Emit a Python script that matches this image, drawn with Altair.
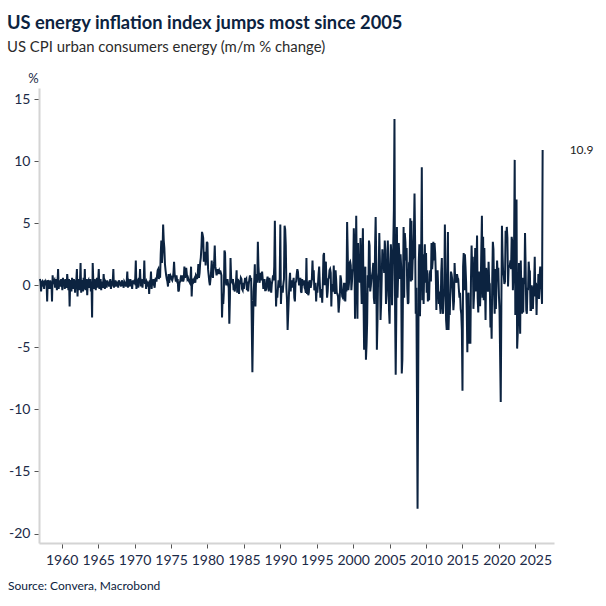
import altair as alt
import pandas as pd

# US CPI urban consumers, energy: month-on-month % change, Jan 1957 - Jan 2026
START_YEAR = 1957

vals_1950s = [
    0.5, 0.3, -0.5, 0.2, 0.3, 0.1, 0.2, -0.3, 0.4, 0.0, 0.3, 0.2,
    -1.3, 0.4, 0.3, 0.2, -0.3, 0.4, 0.1, 0.3, -1.3, 0.8, 0.2, 0.3,
    0.4, -0.2, 0.3, 0.5, -0.4, 0.2, 1.3, -0.3, 0.4, 0.2, -0.1, 0.5,
]
vals_1960s = [
    0.3, -0.4, 0.6, 0.2, 0.4, -0.3, 0.5, 0.1, -0.2, 0.9, 0.3, -0.4,
    0.5, -1.7, 0.4, 0.3, -0.5, 0.6, 0.2, -0.3, 0.5, 0.1, -0.6, 0.3,
    0.4, 1.3, -0.9, 0.5, 0.3, -0.4, 0.2, 1.8, -0.6, 0.4, 0.3, -0.5,
    0.6, -0.3, 1.3, -0.4, 0.2, 0.5, -0.8, 0.3, 0.4, -0.2, 0.1, 0.5,
    -0.5, 0.3, -2.6, 1.8, 0.4, -0.3, 0.5, 0.2, -0.4, 0.3, 0.6, -0.2,
    0.4, 1.3, -0.3, 0.2, 0.5, -0.4, 0.3, 0.1, -0.2, 0.9, 0.2, -0.3,
    0.3, 0.2, -0.2, 0.4, 0.1, 0.3, -0.1, 0.2, 0.5, -0.3, 0.2, 0.1,
    0.3, 1.3, -0.2, 0.2, 0.4, -0.1, 0.2, 0.1, 0.3, -0.2, 0.4, 0.2,
    0.1, 0.3, -0.1, 0.4, 0.2, 0.1, -0.2, 0.3, 0.2, 0.1, -0.1, 0.3,
    1.1, -0.2, 0.4, 0.3, -0.1, 0.5, 0.2, 0.1, -0.3, 0.4, 0.2, 0.3,
]
vals_1970s = [
    0.2, 0.5, 2.0, -0.3, 0.4, 0.3, -0.2, 0.6, 0.2, 1.3, -0.1, 0.4,
    0.3, -0.2, 0.5, 0.2, 2.0, 0.1, 0.4, -0.3, 0.3, 0.2, -0.1, 0.3,
    -0.7, 0.4, 0.2, 1.1, -0.3, 0.3, 0.2, 0.5, 0.1, -0.2, 0.4, 0.6,
    0.3, 0.8, 1.2, 1.3, 0.5, 1.0, 0.6, 2.5, 3.6, 1.8, 2.7, 4.9,
    3.6, 3.0, 1.7, 1.2, 0.8, 0.5, 0.3, -0.1, 0.9, 0.2, 0.6, 0.8,
    0.7, 0.5, 0.4, 0.6, 1.0, 1.9, 0.9, 0.6, 0.3, 0.8, 0.4, 0.5,
    -0.5, -0.4, 0.2, 0.3, 0.6, 0.5, 0.8, 0.5, 0.3, 0.5, 1.5, 0.6,
    0.8, 1.4, 0.9, 0.5, 0.6, 0.4, 0.3, 0.2, 0.5, 1.5, -0.9, 0.3,
    0.4, 0.3, 0.5, 0.6, 0.2, 0.8, 0.7, 0.5, 0.9, 1.7, 0.6, 1.0,
    1.8, 2.2, 3.0, 4.3, 4.1, 3.8, 1.9, 2.5, 2.7, 1.6, 2.4, 3.5,
]
vals_1980s = [
    3.4, 1.3, 0.8, 0.3, 0.0, 0.5, 1.1, 2.0, 0.9, 0.6, 1.4, 1.8,
    3.2, 1.5, 1.2, 0.8, 1.0, 1.3, 1.1, 1.2, 0.9, 1.2, 1.0, 0.8,
    -2.6, -0.9, -1.5, -0.5, 2.8, 2.6, 0.4, 0.0, 0.3, 0.5, 0.1, -0.2,
    -3.1, -1.0, 2.2, 0.6, 0.3, 0.2, 0.5, -0.4, -0.2, -0.5, 0.1, 0.3,
    1.2, -0.6, 0.5, 0.3, -0.7, 0.4, 0.1, 0.6, 0.5, -0.3, -0.4, 0.2,
    -0.3, 0.2, 0.6, 0.4, 0.5, -0.4, 0.3, -0.5, 0.1, 0.5, 0.8, 0.5,
    0.5, -3.3, -7.0, -3.5, -0.5, 0.3, 1.7, -1.7, 0.4, 0.9, 0.2, 3.5,
    1.5, 0.6, 0.2, 1.0, 0.4, 0.8, 1.1, 0.5, -0.3, 0.2, 0.5, -0.4,
    -0.4, -0.3, 0.4, 0.7, 0.2, -0.5, 0.6, 0.3, -0.2, -0.6, 0.1, 0.4,
    0.8, 0.4, 1.5, 5.2, 1.1, -1.7, -0.4, -1.0, -0.3, 0.4, -0.2, 0.6,
]
vals_1990s = [
    4.9, -1.5, -0.3, -0.2, -0.6, 0.1, 0.5, 4.8, 4.5, 3.2, -0.2, -1.2,
    -3.6, -2.3, -1.0, 0.3, 1.0, -0.5, 0.2, 0.4, -0.2, 0.3, 0.6, -1.0,
    -1.3, 0.2, 0.3, 0.9, 1.3, 1.1, 0.4, 0.0, 0.3, 0.6, -0.5, -0.6,
    0.5, 0.1, 0.2, 0.4, -0.2, -0.3, -0.6, 2.2, -0.7, 0.3, -0.8, -0.6,
    0.4, 0.2, -0.2, 0.1, 0.6, 2.0, 0.4, 1.2, -0.4, -0.3, 0.2, -1.3,
    -0.2, -0.6, 0.1, 0.9, 1.5, 0.2, -1.0, -0.6, -0.3, -1.4, 0.2, 2.4,
    2.6, 0.0, 1.8, 1.9, 0.2, -1.0, -0.5, 0.5, 0.6, 1.2, 1.3, 1.0,
    -1.7, 0.1, -0.5, -0.3, 1.6, -0.4, -0.7, 1.2, 0.4, -0.6, -0.7, -0.9,
    -2.2, -1.5, -0.8, 0.8, 0.5, -0.3, -0.9, -1.0, -0.6, 0.2, -1.0, -1.3,
    0.2, -0.5, 5.1, 2.6, -0.4, 0.1, 1.8, 1.9, 1.6, -0.4, 0.3, 1.2,
]
vals_2000s = [
    1.2, 4.6, 3.0, -2.7, 1.0, 5.6, 0.8, -2.7, 3.4, 0.3, 0.9, 0.2,
    3.8, 0.5, -1.5, 1.8, 4.6, -1.0, -5.2, 0.6, 1.5, -6.0, -4.8, -3.0,
    0.8, -0.2, 3.6, 3.2, -0.5, -0.1, 0.5, 0.8, 1.1, 1.8, -1.0, -1.5,
    3.0, 5.5, 1.8, -5.2, -2.9, 0.5, 1.0, 4.2, 2.0, -2.8, -1.5, 0.6,
    2.9, 1.5, 2.0, 1.0, 3.6, 2.8, -1.5, -0.8, 0.6, 3.6, 1.6, -2.0,
    -3.1, 1.2, 3.3, 2.4, -1.6, 0.6, 3.3, 6.0, 13.4, -2.0, -7.2, -2.4,
    4.7, -1.0, 0.8, 3.4, 2.4, 0.5, 2.5, 1.5, -7.1, -6.0, -0.5, 4.7,
    -1.0, 4.2, 3.5, 2.0, 3.0, -0.3, -1.5, -1.4, 1.8, 1.9, 5.4, 0.3,
    5.2, 0.4, 2.0, 2.3, 4.2, 7.4, 3.5, -2.3, -0.2, -8.6, -18.0, -8.3,
    1.9, 3.3, -2.5, 0.9, 2.8, 9.5, -1.2, 2.5, -1.5, 1.4, 3.3, 0.2,
]
vals_2010s = [
    2.6, -0.6, 1.2, -1.3, -1.0, -1.2, 0.9, 1.2, 0.3, 3.4, 1.3, 2.0,
    3.5, 2.0, 3.4, 2.6, 1.0, -2.0, 0.7, 1.2, -0.2, -1.5, -0.5, -1.6,
    -2.3, 1.0, 2.2, -1.5, -2.3, -1.0, -0.3, 4.9, 1.2, -2.8, -3.6, -1.4,
    4.3, -3.6, -1.8, -2.4, -0.6, 1.1, 0.9, 0.5, -0.7, -2.0, -1.3, 1.8,
    0.5, 0.6, 0.2, 0.9, 0.6, 0.5, -0.3, -1.0, -0.6, -1.9, -2.3, -3.6,
    -8.5, 1.5, 2.6, -0.4, 2.5, 1.5, 0.2, -2.0, -5.4, -1.0, -0.6, -4.7,
    -2.8, -4.7, 0.5, 3.2, 1.2, 2.3, -1.9, -0.8, 0.9, 3.0, -0.5, 1.5,
    4.0, -1.0, -2.2, 1.1, -1.6, -1.6, -0.1, 2.8, 5.6, -1.0, 3.9, -1.2,
    3.0, 0.1, -2.8, 1.4, 0.9, -0.3, -0.5, 1.9, 0.2, 0.1, -3.4, -2.2,
    -4.3, 0.4, 3.5, 2.9, -0.6, -2.3, 1.3, -1.9, 0.0, 2.0, 0.8, 1.4,
]
vals_2020s = [
    -0.8, -2.0, -5.8, -9.4, -1.8, 4.8, 2.5, 0.9, 0.8, 0.1, 0.3, 4.4,
    3.5, 4.7, 3.8, -0.1, 1.5, 1.5, 1.6, 2.0, 1.3, 3.9, 3.5, -0.4,
    0.9, 3.5, 10.1, -2.4, 3.9, 6.9, -5.1, -3.9, -2.1, 1.8, -1.6, -3.9,
    2.0, -0.6, -2.3, 0.6, -2.2, 0.6, 0.1, 4.2, 1.5, -2.0, -2.3, -0.2,
    -0.4, 1.9, 1.1, 1.1, -2.0, -2.0, 0.0, -0.8, -1.9, -0.3, 0.0, 2.3,
    -0.9, 0.2, -2.4, 0.1, -1.0, 0.9, -1.1, 0.7, 1.5, 0.2, -0.4, -1.5,
    10.9,
]

values = (vals_1950s + vals_1960s + vals_1970s + vals_1980s
          + vals_1990s + vals_2000s + vals_2010s + vals_2020s)

# decimal year for each monthly observation
df = pd.DataFrame({
    "t": [START_YEAR + i / 12 for i in range(len(values))],
    "v": values,
})
last = df.tail(1)

x_ticks = list(range(1960, 2030, 5))
y_ticks = list(range(-20, 20, 5))

NAVY = "#0c2340"
LABEL = "#1b2a47"
FONT = "Lato"

x_enc = alt.X(
    "t:Q",
    scale=alt.Scale(domain=[1956.88, 2027.56], nice=False, zero=False),
    axis=alt.Axis(
        values=x_ticks, tickCount=len(x_ticks) + 2, format="d", title=None,
        grid=False, labelOverlap=False,
        domainColor="#d4d4d4", domainWidth=2, tickColor="#555555", tickSize=5,
        labelPadding=5, labelFontSize=14, labelColor=LABEL, labelFont=FONT,
    ),
)
y_enc = alt.Y(
    "v:Q",
    scale=alt.Scale(domain=[-20.76, 15.89], nice=False, zero=False),
    axis=alt.Axis(
        values=y_ticks, tickCount=len(y_ticks) + 2, title="%", grid=False,
        labelExpr="'' + datum.value", labelOverlap=False,
        titleAngle=0, titleX=-6, titleY=-6, titleAlign="center",
        titleBaseline="alphabetic", titleFontWeight="normal", titleFontSize=13,
        titleColor=LABEL, titleFont=FONT,
        domainColor="#d4d4d4", domainWidth=2, tickColor="#555555", tickSize=5,
        labelPadding=4, labelFontSize=14, labelColor=LABEL, labelFont=FONT,
    ),
)

line = alt.Chart(df).mark_line(color=NAVY, strokeWidth=2).encode(x=x_enc, y=y_enc)

end_label = alt.Chart(last).mark_text(
    align="left", baseline="middle", dx=27, fontSize=12, font=FONT, color="#222222"
).encode(x="t:Q", y="v:Q", text=alt.Text("v:Q", format=".1f"))


def caption(text, x, y, size, color, weight="normal"):
    return alt.Chart(pd.DataFrame({"s": [text]})).mark_text(
        align="left", baseline="alphabetic", fontSize=size, font=FONT,
        fontWeight=weight, color=color,
    ).encode(text="s:N", x=alt.value(x), y=alt.value(y))


title = caption("US energy inflation index jumps most since 2005", -32, -59, 18.3, NAVY, "bold")
subtitle = caption("US CPI urban consumers energy (m/m % change)", -32, -36, 14.9, "#2b2b2b")
source = caption("Source: Convera, Macrobond", -31, 502, 12, NAVY)

chart = alt.layer(line, end_label, title, subtitle, source).properties(
    width=515,
    height=455,
    autosize=alt.AutoSizeParams(type="none"),
    padding={"left": 39, "top": 88, "right": 52, "bottom": 63},
    background="white",
).configure_view(stroke=None)

chart.save("out.html", embed_options={"renderer": "svg", "actions": False})
